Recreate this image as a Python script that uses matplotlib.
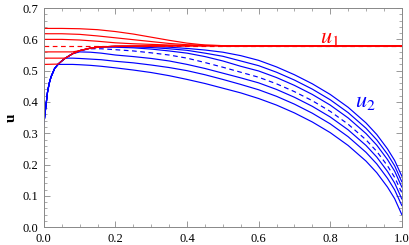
import matplotlib
matplotlib.use("Agg")
import matplotlib.pyplot as plt
from matplotlib.ticker import MultipleLocator

plt.rcParams['font.family'] = ['Liberation Serif', 'DejaVu Serif']
plt.rcParams['mathtext.fontset'] = 'stix'

# common x grid for the u2 curves
x_blue = [0, 0.0025, 0.005, 0.01, 0.015, 0.02, 0.03, 0.04, 0.05, 0.06, 0.08, 0.1,
          0.13, 0.16, 0.2, 0.25, 0.3, 0.35, 0.4, 0.45, 0.5, 0.55, 0.6, 0.65, 0.7,
          0.75, 0.8, 0.85, 0.9, 0.93, 0.96, 0.98, 1.0]

# u2 curves, lowest to highest (b4 is the dashed one)
b1 = [0.33, 0.355, 0.38, 0.43, 0.46, 0.48, 0.507, 0.52, 0.52, 0.52, 0.52, 0.519,
      0.517, 0.514, 0.509, 0.502, 0.494, 0.484, 0.472, 0.459, 0.444, 0.429, 0.411, 0.390, 0.365,
      0.336, 0.302, 0.261, 0.211, 0.174, 0.128, 0.091, 0.040]
b2 = [0.33, 0.355, 0.38, 0.43, 0.46, 0.48, 0.507, 0.521, 0.531, 0.54, 0.54, 0.539,
      0.537, 0.535, 0.530, 0.525, 0.518, 0.510, 0.500, 0.487, 0.472, 0.456, 0.439, 0.418, 0.393,
      0.364, 0.330, 0.289, 0.239, 0.202, 0.156, 0.119, 0.069]
b3 = [0.33, 0.355, 0.38, 0.43, 0.46, 0.48, 0.507, 0.521, 0.531, 0.54, 0.554, 0.56,
      0.559, 0.556, 0.550, 0.545, 0.539, 0.531, 0.520, 0.507, 0.492, 0.477, 0.461, 0.440, 0.415,
      0.386, 0.352, 0.311, 0.261, 0.224, 0.178, 0.141, 0.090]
b4 = [0.33, 0.355, 0.38, 0.43, 0.46, 0.48, 0.507, 0.521, 0.531, 0.54, 0.554, 0.564,
      0.570, 0.570, 0.567, 0.563, 0.557, 0.550, 0.540, 0.526, 0.511, 0.495, 0.479, 0.458, 0.433,
      0.404, 0.370, 0.329, 0.279, 0.242, 0.196, 0.159, 0.110]
b5 = [0.33, 0.355, 0.38, 0.43, 0.46, 0.48, 0.507, 0.521, 0.531, 0.54, 0.554, 0.564,
      0.572, 0.576, 0.575, 0.573, 0.569, 0.563, 0.556, 0.545, 0.531, 0.514, 0.499, 0.478, 0.453,
      0.424, 0.390, 0.349, 0.299, 0.262, 0.216, 0.179, 0.128]
b6 = [0.33, 0.355, 0.38, 0.43, 0.46, 0.48, 0.507, 0.521, 0.531, 0.54, 0.554, 0.564,
      0.572, 0.576, 0.577, 0.576, 0.574, 0.570, 0.565, 0.556, 0.546, 0.531, 0.516, 0.495, 0.470,
      0.441, 0.407, 0.366, 0.316, 0.279, 0.233, 0.196, 0.145]
b7 = [0.33, 0.355, 0.38, 0.43, 0.46, 0.48, 0.507, 0.521, 0.531, 0.54, 0.554, 0.564,
      0.572, 0.576, 0.578, 0.578, 0.577, 0.575, 0.571, 0.566, 0.559, 0.548, 0.533, 0.512, 0.487,
      0.458, 0.424, 0.383, 0.333, 0.296, 0.250, 0.213, 0.163]

# u1 curves
x_red_low = [0, 0.04, 0.05, 0.06, 0.08, 0.1, 0.13, 0.16, 0.2, 0.3, 0.5, 1.0]
r1 = [0.52, 0.521, 0.531, 0.54, 0.554, 0.564, 0.572, 0.576, 0.578, 0.579, 0.58, 0.58]
r2 = [0.54, 0.54, 0.54, 0.54, 0.554, 0.564, 0.572, 0.576, 0.578, 0.579, 0.58, 0.58]
r3 = [0.56, 0.56, 0.56, 0.56, 0.56, 0.564, 0.572, 0.576, 0.578, 0.579, 0.58, 0.58]

x_red_high = [0, 0.05, 0.1, 0.15, 0.2, 0.25, 0.3, 0.35, 0.4, 0.45, 0.5, 1.0]
r5 = [0.600, 0.600, 0.598, 0.594, 0.589, 0.586, 0.584, 0.582, 0.581, 0.580, 0.58, 0.58]
r6 = [0.618, 0.618, 0.616, 0.611, 0.605, 0.599, 0.593, 0.587, 0.583, 0.581, 0.58, 0.58]
r7 = [0.635, 0.635, 0.634, 0.631, 0.625, 0.617, 0.607, 0.597, 0.588, 0.582, 0.58, 0.58]
r4 = [0.58, 0.58]
x_r4 = [0, 1.0]

blue = '#0000ff'
red = '#ff0000'
lw = 0.85

fig = plt.figure(figsize=(4.1, 2.45), dpi=100)
ax = fig.add_axes([0.107, 0.073, 0.873, 0.894])

for y in [b1, b2, b3, b5, b6, b7]:
    ax.plot(x_blue, y, color=blue, lw=lw)
ax.plot(x_blue, b4, color=blue, lw=lw, dashes=(4, 3))

for y in [r1, r2, r3]:
    ax.plot(x_red_low, y, color=red, lw=lw)
for y in [r5, r6, r7]:
    ax.plot(x_red_high, y, color=red, lw=lw)
ax.plot(x_r4, r4, color=red, lw=lw, dashes=(4, 3))
ax.plot([0.5, 1.0], [0.58, 0.58], color=red, lw=1.3)

ax.text(0.772, 0.59, '$u_1$', color=red, fontsize=16)
ax.text(0.87, 0.385, '$u_2$', color=blue, fontsize=16)

ax.set_xlim(0, 1)
ax.set_ylim(0, 0.7)
ax.xaxis.set_major_locator(MultipleLocator(0.2))
ax.xaxis.set_minor_locator(MultipleLocator(0.05))
ax.yaxis.set_major_locator(MultipleLocator(0.1))
ax.yaxis.set_minor_locator(MultipleLocator(0.02))
ax.tick_params(which='both', direction='in', top=True, right=True,
               color='#888888', labelsize=9)
ax.tick_params(axis='x', which='major', pad=4)
ax.tick_params(axis='y', which='major', pad=4)
ax.tick_params(which='major', length=4, width=0.6)
ax.tick_params(which='minor', length=2, width=0.5)
for s in ax.spines.values():
    s.set_color('#888888')
    s.set_linewidth(0.7)
ax.set_ylabel('u', fontsize=11, fontweight='bold', labelpad=3)

fig.savefig('out.png', dpi=100)
